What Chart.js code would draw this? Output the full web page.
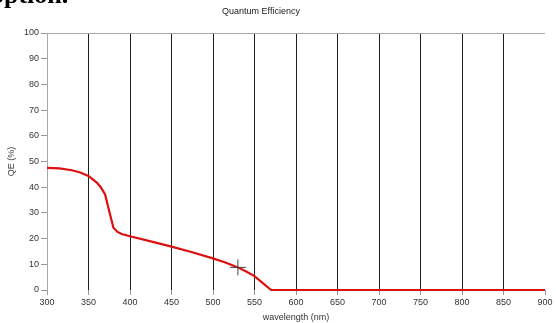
<!DOCTYPE html>
<html>
<head>
<meta charset="utf-8">
<script src="https://cdn.jsdelivr.net/npm/chart.js@4"></script>
<style>
  body { margin: 0; background: #fff; }
  #wrap { position: relative; width: 556px; height: 323px; overflow: hidden; }
  #page-text {
    position: absolute; left: -9px; top: -18px;
    font: bold 26px/26px "Liberation Serif", "Times New Roman", serif;
    color: #000; white-space: nowrap;
  }
  canvas { position: absolute; left: 0; top: 0; }
</style>
</head>
<body>
<div id="wrap">
  <canvas id="qe-chart" width="556" height="323"></canvas>
  <div id="page-text">option.</div>
</div>
<script>
// QE curve (wavelength in nm, QE in %)
const wavelengths = [300, 315, 330, 340, 350, 360, 365, 370, 375, 380, 385, 390, 400, 425, 450, 475, 500, 515, 530, 540, 550, 560, 570, 900];
const qeValues    = [47.5, 47.3, 46.6, 45.7, 44.4, 41.8, 39.9, 37.2, 30.6, 24.2, 22.6, 21.8, 20.9, 18.9, 16.9, 14.7, 12.3, 10.7, 8.8, 7.2, 5.4, 2.7, 0, 0];

// cursor marker on the curve
const cursorX = [530];
const cursorY = [8.8];

const xTicks = [300, 350, 400, 450, 500, 550, 600, 650, 700, 750, 800, 850, 900];
const yTicks = [0, 10, 20, 30, 40, 50, 60, 70, 80, 90, 100];

const labelFont = { family: "'Liberation Sans', Arial, sans-serif", size: 9 };

// title drawn centred over the page area rather than the plot
const titlePlugin = {
  id: "qeTitle",
  afterDraw(chart) {
    const ctx = chart.ctx;
    ctx.save();
    ctx.font = "9px 'Liberation Sans', Arial, sans-serif";
    ctx.fillStyle = "#222";
    ctx.textAlign = "center";
    ctx.textBaseline = "middle";
    ctx.fillText("Quantum Efficiency", 261, 12);
    ctx.restore();
  },
};

new Chart(document.getElementById("qe-chart"), {
  type: "line",
  data: {
    datasets: [
      {
        label: "Cursor",
        type: "scatter",
        data: cursorX.map((x, i) => ({ x, y: cursorY[i] })),
        pointStyle: "cross",
        pointRadius: 8,
        pointBorderWidth: 1,
        borderColor: "#444",
        backgroundColor: "#444",
        showLine: false,
        order: 0,
      },
      {
        label: "QE (%)",
        data: wavelengths.map((x, i) => ({ x, y: qeValues[i] })),
        borderColor: "#dd1010",
        borderWidth: 2.2,
        pointRadius: 0,
        tension: 0,
        fill: false,
        clip: false,
        order: 1,
      },
    ],
  },
  options: {
    responsive: false,
    animation: false,
    layout: { padding: { top: 33, right: 11, left: 0, bottom: 0 } },
    plugins: {
      legend: { display: false },
      tooltip: { enabled: false },
      title: { display: false },
    },
    scales: {
      x: {
        type: "linear",
        min: 300,
        max: 900,
        afterBuildTicks: (scale) => { scale.ticks = xTicks.map((v) => ({ value: v })); },
        afterFit: (scale) => { scale.height = 33; },
        border: { display: false },
        grid: {
          color: (c) => (c.tick && (c.tick.value === 300 || c.tick.value === 900) ? "rgba(0,0,0,0)" : "#1e1e1e"),
          tickColor: "#999",
          tickLength: 5,
          lineWidth: 1,
        },
        ticks: { font: labelFont, color: "#333", padding: 2, maxRotation: 0 },
        title: {
          display: true,
          text: "wavelength (nm)",
          font: labelFont,
          color: "#333",
          padding: { top: 0, bottom: 0 },
        },
      },
      y: {
        min: 0,
        max: 100,
        afterBuildTicks: (scale) => { scale.ticks = yTicks.map((v) => ({ value: v })); },
        afterFit: (scale) => { scale.width = 47; },
        border: { display: true, color: "#a8a8a8", width: 1 },
        grid: {
          color: (c) => (c.tick && c.tick.value === 100 ? "#a8a8a8" : "rgba(0,0,0,0)"),
          tickColor: "#999",
          tickLength: 6,
        },
        ticks: { font: labelFont, color: "#333", padding: 2 },
        title: {
          display: true,
          text: "QE (%)",
          font: labelFont,
          color: "#333",
          padding: { top: 6, bottom: 0 },
        },
      },
    },
  },
  plugins: [titlePlugin],
});
</script>
</body>
</html>
